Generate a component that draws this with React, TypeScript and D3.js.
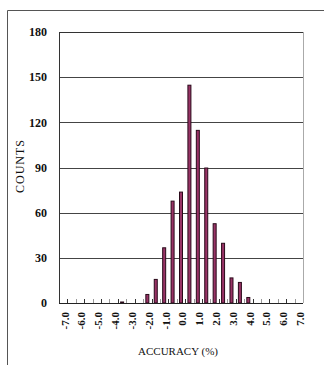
import * as React from 'react';
import * as d3 from 'd3';

const categories = ['-7.0', '-6.5', '-6.0', '-5.5', '-5.0', '-4.5', '-4.0', '-3.5', '-3.0', '-2.5',
  '-2.0', '-1.5', '-1.0', '-0.5', '0.0', '0.5', '1.0', '1.5', '2.0', '2.5',
  '3.0', '3.5', '4.0', '4.5', '5.0', '5.5', '6.0', '6.5', '7.0'];
const counts = [0, 0, 0, 0, 0, 0, 0, 1, 0, 0,
  6, 16, 37, 68, 74, 145, 115, 90, 53, 40,
  17, 14, 4, 0, 0, 0, 0, 0, 0];
const tickLabels = ['-7.0', '-6.0', '-5.0', '-4.0', '-3.0', '-2.0', '-1.0', '0.0',
  '1.0', '2.0', '3.0', '4.0', '5.0', '6.0', '7.0'];
const yTicks = [0, 30, 60, 90, 120, 150, 180];

const W = 324;
const H = 365;
const plot = {left: 59, right: 303, top: 32, bottom: 303};
const font = '"Liberation Serif", "Times New Roman", serif';

export default function App() {
  const x = d3.scaleBand<string>()
    .domain(categories)
    .range([plot.left, plot.right])
    .padding(0);
  const y = d3.scaleLinear()
    .domain([0, 180])
    .range([plot.bottom, plot.top]);

  const bw = x.bandwidth();
  const barW = 4;
  const boundaries = d3.range(1, categories.length).map(k => plot.left + k * bw);

  return (
    <svg width={W} height={H} style={{position: 'absolute', left: 0, top: 0}}
      fontFamily={font}>
      <rect x={0} y={0} width={W} height={H} fill="#fff" />
      {/* outer frame */}
      <path d={`M7.5,${H} V10.5 H${W}`} fill="none" stroke="#555" strokeWidth={1} />

      {/* gridlines */}
      {yTicks.filter(t => t > 0).map(t => (
        <line key={t} x1={plot.left} x2={plot.right} y1={Math.round(y(t)) + 0.5} y2={Math.round(y(t)) + 0.5}
          stroke={t === 180 ? '#333' : '#444'} strokeWidth={1} />
      ))}
      {/* plot borders */}
      <line x1={plot.left + 0.5} x2={plot.left + 0.5} y1={y(180)} y2={y(0)} stroke="#333" />
      <line x1={plot.right + 0.5} x2={plot.right + 0.5} y1={y(180)} y2={y(0)} stroke="#aaa" />

      {/* bars */}
      {categories.map((c, i) => counts[i] > 0 ? (
        <rect key={c}
          x={(x(c) as number) + bw / 2 - barW / 2 + 0.5}
          y={y(counts[i]) + 0.5}
          width={barW - 1}
          height={y(0) - y(counts[i]) - 0.5}
          fill="#993366" stroke="#2a0a1a" strokeWidth={1} />
      ) : null)}

      {/* x axis */}
      <line x1={plot.left} x2={plot.right} y1={plot.bottom + 0.5} y2={plot.bottom + 0.5} stroke="#222" />
      {boundaries.map((bx, k) => (
        <line key={k} x1={Math.round(bx) + 0.5} x2={Math.round(bx) + 0.5}
          y1={plot.bottom} y2={plot.bottom - 4}
          stroke={k % 2 === 0 ? '#333' : '#999'} />
      ))}
      {tickLabels.map(t => (
        <text key={t} transform={`translate(${(x(t) as number) + bw / 2 + 1.5},312) rotate(-90)`}
          dy="0.35em" textAnchor="end" fontSize={11} fontWeight="bold" fill="#111">{t}</text>
      ))}

      {/* y axis labels */}
      {yTicks.map(t => (
        <text key={t} x={47} y={y(t)} dy="0.35em" textAnchor="end"
          fontSize={12} fontWeight="bold" fill="#111">{t}</text>
      ))}

      {/* titles */}
      <text transform="translate(20,166) rotate(-90)" dy="0.35em" textAnchor="middle"
        fontSize={12} letterSpacing={1} fill="#111">COUNTS</text>
      <text x={178} y={351} dy="0.35em" textAnchor="middle" fontSize={11} fill="#111">ACCURACY (%)</text>
    </svg>
  );
}
